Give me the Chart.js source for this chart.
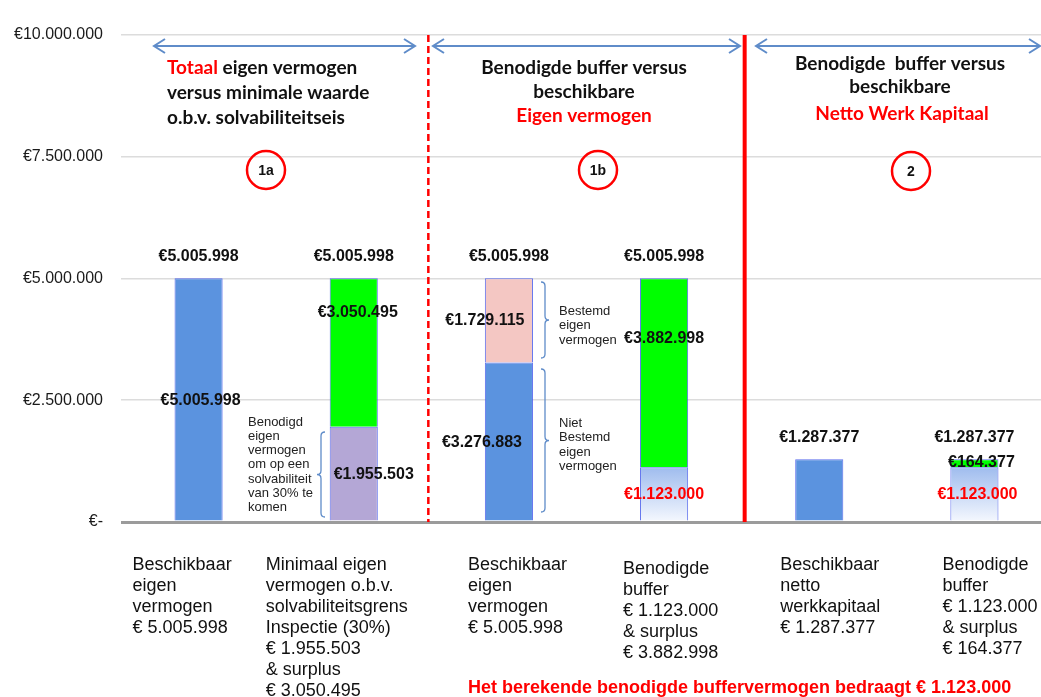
<!DOCTYPE html>
<html>
<head>
<meta charset="utf-8">
<script src="https://cdn.jsdelivr.net/npm/chart.js@4.4.1/dist/chart.umd.min.js"></script>
<style>
html,body{margin:0;padding:0;background:#fff;overflow:hidden;width:1041px;height:697px}
#wrap{position:relative;width:1052px;height:697px}
</style>
</head>
<body>
<div id="wrap"><canvas id="c" width="1052" height="697"></canvas></div>
<script>
// ---------- data ----------
const categories = [
  ['Beschikbaar', 'eigen', 'vermogen', '€ 5.005.998'],
  ['Minimaal eigen', 'vermogen o.b.v.', 'solvabiliteitsgrens', 'Inspectie (30%)', '€ 1.955.503', '& surplus', '€ 3.050.495'],
  ['Beschikbaar', 'eigen', 'vermogen', '€ 5.005.998'],
  ['Benodigde', 'buffer', '€ 1.123.000', '& surplus', '€ 3.882.998'],
  ['Beschikbaar', 'netto', 'werkkapitaal', '€ 1.287.377'],
  ['Benodigde', 'buffer', '€ 1.123.000', '& surplus', '€ 164.377']
];
const baseValues  = [5005998, 1955503, 3276883, 1123000, 1287377, 1123000];
const topValues   = [null, 3050495, 1729115, 3882998, null, 164377];
const totalValues = [5005998, 5005998, 5005998, 5005998, 1287377, 1287377];
const yTickValues = [0, 2500000, 5000000, 7500000, 10000000];
const yTickLabels = ['€-', '€2.500.000', '€5.000.000', '€7.500.000', '€10.000.000'];
const sectionTitles = [
  ['Totaal', 'eigen vermogen', 'versus minimale waarde', 'o.b.v. solvabiliteitseis'],
  ['Benodigde buffer versus', 'beschikbare', 'Eigen vermogen'],
  ['Benodigde  buffer versus', 'beschikbare', 'Netto Werk Kapitaal']
];
const sectionMarks = ['1a', '1b', '2'];
const noteBenodigd = ['Benodigd', 'eigen', 'vermogen', 'om op een', 'solvabiliteit', 'van 30% te', 'komen'];
const noteBestemd = ['Bestemd', 'eigen', 'vermogen'];
const noteNietBestemd = ['Niet', 'Bestemd', 'eigen', 'vermogen'];
const footerText = 'Het berekende benodigde buffervermogen bedraagt € 1.123.000';

// ---------- styles ----------
const BLUE = '#5B93DF', PURPLE = '#B4A7D6', PINK = '#F4C7C3', GREEN = '#00FF00';
const baseStyles = [BLUE, PURPLE, BLUE, 'grad', BLUE, 'grad'];
const topStyles  = [null, GREEN, PINK, GREEN, null, GREEN];
const BORDER = 'rgba(75,95,235,0.9)';
const ARROW = '#5F8CC9';
const SANS = '"Liberation Sans", Arial, sans-serif';

function fmt(v) {
  return '€' + String(v).replace(/\B(?=(\d{3})+(?!\d))/g, '.');
}

function baseColor(ctx) {
  const i = ctx.dataIndex;
  const s = baseStyles[i];
  if (s !== 'grad') return s;
  const chart = ctx.chart;
  if (!chart.chartArea || !chart.scales.y) return '#C9DAF5';
  const ys = chart.scales.y;
  const g = chart.ctx.createLinearGradient(0, ys.getPixelForValue(baseValues[i]), 0, ys.getPixelForValue(0));
  g.addColorStop(0, '#9FBCEE');
  g.addColorStop(1, '#F5F8FE');
  return g;
}

function txt(c, s, x, y, font, color, align) {
  c.font = font; c.fillStyle = color;
  c.textAlign = align || 'center'; c.textBaseline = 'middle';
  c.fillText(s, x, y);
}

function arrow(c, x1, x2, y) {
  c.strokeStyle = ARROW; c.lineWidth = 2;
  c.beginPath(); c.moveTo(x1, y); c.lineTo(x2, y); c.stroke();
  c.beginPath();
  c.moveTo(x1 + 11, y - 7); c.lineTo(x1, y); c.lineTo(x1 + 11, y + 7);
  c.moveTo(x2 - 11, y - 7); c.lineTo(x2, y); c.lineTo(x2 - 11, y + 7);
  c.stroke();
}

// dir = -1: tip points left "{" ; dir = +1: tip points right "}"
function brace(c, x, y1, y2, dir) {
  const h = 4, ym = (y1 + y2) / 2;
  c.strokeStyle = ARROW; c.lineWidth = 1.3;
  c.beginPath();
  c.moveTo(x - dir * h, y1);
  c.quadraticCurveTo(x, y1, x, y1 + h);
  c.lineTo(x, ym - h);
  c.quadraticCurveTo(x, ym, x + dir * h, ym);
  c.quadraticCurveTo(x, ym, x, ym + h);
  c.lineTo(x, y2 - h);
  c.quadraticCurveTo(x, y2, x - dir * h, y2);
  c.stroke();
}

const annotations = {
  id: 'annotations',
  afterDatasetsDraw(chart) {
    const c = chart.ctx, xs = chart.scales.x, ys = chart.scales.y, a = chart.chartArea;
    const bx = i => xs.getPixelForValue(i);
    const py = v => ys.getPixelForValue(v);
    c.save();

    // section dividers
    c.strokeStyle = '#FF0000';
    c.lineWidth = 2.5; c.setLineDash([7, 4]);
    const xd = xs.getPixelForValue(1.5) - 3;
    c.beginPath(); c.moveTo(xd, a.top); c.lineTo(xd, a.bottom); c.stroke();
    c.setLineDash([]);
    c.lineWidth = 4;
    const xs2 = xs.getPixelForValue(3.5) + 3;
    c.beginPath(); c.moveTo(xs2, a.top); c.lineTo(xs2, a.bottom); c.stroke();

    // arrows
    const ay = a.top + 11;
    arrow(c, 154, 415, ay);
    arrow(c, 433, 740, ay);
    arrow(c, 756, 1040, ay);

    // section titles
    const FT = 'bold 19px Lato, "Open Sans", sans-serif';
    c.font = FT;
    txt(c, sectionTitles[0][0], 167, 68, FT, '#FF0000', 'left');
    const w0 = c.measureText(sectionTitles[0][0] + ' ').width;
    txt(c, sectionTitles[0][1], 167 + w0, 68, FT, '#111', 'left');
    txt(c, sectionTitles[0][2], 167, 93, FT, '#111', 'left');
    txt(c, sectionTitles[0][3], 167, 118, FT, '#111', 'left');
    txt(c, sectionTitles[1][0], 584, 68, FT, '#111');
    txt(c, sectionTitles[1][1], 584, 92, FT, '#111');
    txt(c, sectionTitles[1][2], 584, 116, FT, '#FF0000');
    txt(c, sectionTitles[2][0], 900, 64, FT, '#111');
    txt(c, sectionTitles[2][1], 900, 87, FT, '#111');
    txt(c, sectionTitles[2][2], 902, 114, FT, '#FF0000');

    // circled marks
    const circles = [[266, 170], [598, 170], [911, 171]];
    circles.forEach((p, k) => {
      c.strokeStyle = '#FF0000'; c.lineWidth = 2.5;
      c.beginPath(); c.arc(p[0], p[1], 19, 0, Math.PI * 2); c.stroke();
      txt(c, sectionMarks[k], p[0], p[1] + 1, 'bold 14px ' + SANS, '#111');
    });

    // value labels
    const FV = 'bold 16px ' + SANS;
    totalValues.forEach((v, i) => {
      txt(c, fmt(v), bx(i), py(v) - 22, FV, '#111');
    });
    const inner = [
      [0, 'base', 0.5, 2, '#111'],
      [1, 'top', 0.77, 4, '#111'],
      [1, 'base', 0.5, 20, '#111'],
      [2, 'top', 0.5, -24, '#111'],
      [2, 'base', 0.5, -27, '#111'],
      [3, 'top', 0.68, 0, '#111'],
      [3, 'base', 0.5, 0, '#FF0000'],
      [5, 'top', 0.62, 7, '#111'],
      [5, 'base', 0.5, 3, '#FF0000']
    ];
    inner.forEach(([i, seg, f, dx, col]) => {
      const lo = seg === 'base' ? 0 : baseValues[i];
      const val = seg === 'base' ? baseValues[i] : topValues[i];
      txt(c, fmt(val), bx(i) + dx, py(lo + val * f), FV, col);
    });

    // braces + notes
    brace(c, 321, 432, 517, -1);
    brace(c, 545, 282, 358, 1);
    brace(c, 545, 369, 512, 1);
    const FN = '13px ' + SANS;
    noteBenodigd.forEach((s, k) => txt(c, s, 248, 422 + k * 14.3, FN, '#222', 'left'));
    noteBestemd.forEach((s, k) => txt(c, s, 559, 311 + k * 14.5, FN, '#222', 'left'));
    noteNietBestemd.forEach((s, k) => txt(c, s, 559, 423 + k * 14.6, FN, '#222', 'left'));

    // category labels (left-aligned blocks under each bar)
    const FC = '18px ' + SANS;
    const catDx = [-66, -88, -41, -41, -39, -32];
    const catY = [565, 565, 565, 569, 565, 565];
    categories.forEach((lines, i) => {
      lines.forEach((s, k) => txt(c, s, bx(i) + catDx[i], catY[i] + k * 21, FC, '#111', 'left'));
    });

    // footer
    txt(c, footerText, 468, 688, 'bold 18px ' + SANS, '#FF0000', 'left');
    c.restore();
  }
};

new Chart(document.getElementById('c'), {
  type: 'bar',
  data: {
    labels: categories,
    datasets: [
      { label: 'basis', data: baseValues, backgroundColor: baseColor, borderColor: BORDER, borderWidth: 1, stack: 's' },
      { label: 'surplus', data: topValues, backgroundColor: ctx => topStyles[ctx.dataIndex] || 'rgba(0,0,0,0)', borderColor: BORDER, borderWidth: 1, stack: 's' }
    ]
  },
  options: {
    responsive: false,
    animation: false,
    devicePixelRatio: 1,
    barPercentage: 0.31,
    categoryPercentage: 1,
    layout: { padding: { top: 35, bottom: 175, left: 0, right: 0 } },
    plugins: { legend: { display: false }, tooltip: { enabled: false }, title: { display: false } },
    scales: {
      x: {
        stacked: true,
        grid: { display: false },
        border: { display: false },
        ticks: { display: false },
        afterFit: s => { s.height = 0; }
      },
      y: {
        stacked: true,
        min: 0,
        max: 10000000,
        afterBuildTicks: s => { s.ticks = yTickValues.map(v => ({ value: v })); },
        afterFit: s => { s.width = 121; },
        border: { display: false },
        grid: {
          drawTicks: false,
          color: ctx => ctx.tick && ctx.tick.value === 0 ? '#9B9B9B' : '#DCDCDC',
          lineWidth: ctx => ctx.tick && ctx.tick.value === 0 ? 3 : 1.6
        },
        ticks: {
          padding: 18,
          color: '#1a1a1a',
          font: { family: SANS, size: 16 },
          callback: v => yTickLabels[yTickValues.indexOf(v)]
        }
      }
    }
  },
  plugins: [annotations]
});
</script>
</body>
</html>
